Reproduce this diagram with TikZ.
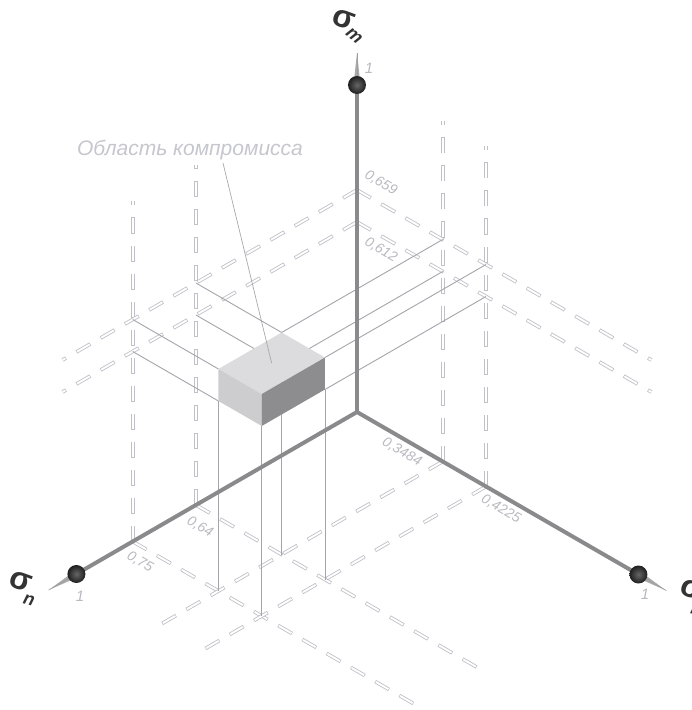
\documentclass[tikz,border=0pt]{standalone}
\usepackage{fontspec}
\setmainfont{Liberation Sans}
\usetikzlibrary{calc}

\definecolor{gridc}{HTML}{C0C0C8}
\definecolor{projc}{HTML}{A4A4AA}
\definecolor{leadc}{HTML}{A8A8AE}
\definecolor{axisc}{HTML}{8A8A8C}
\definecolor{labelc}{HTML}{B8B8C0}
\definecolor{titlec}{HTML}{C6C6CE}
\definecolor{topc}{HTML}{DCDCDE}
\definecolor{frontc}{HTML}{CDCDCF}
\definecolor{sidec}{HTML}{8D8D8F}
\definecolor{tipc}{HTML}{A9A9AB}
\definecolor{sigc}{HTML}{333333}

\tikzset{
  gridline/.style={draw=gridc, line width=3.6pt, dash pattern=on 16pt off 12pt,
    postaction={draw=white, line width=1.9pt, dash pattern=on 14.6pt off 13.4pt, dash phase=27.3pt}},
  projline/.style={draw=projc, line width=0.9pt},
  leader/.style={draw=leadc, line width=0.7pt},
  axisline/.style={draw=axisc, line width=4pt},
  ticklabel/.style={text=labelc, font=\itshape\fontsize{14}{14}\selectfont, rotate=-30, inner sep=0pt},
  unitlabel/.style={text=labelc, font=\itshape\fontsize{15}{15}\selectfont, inner sep=0pt},
  sigmalabel/.style={text=sigc, font=\bfseries\fontsize{32}{32}\selectfont, inner sep=0pt},
  sublabel/.style={text=sigc, font=\bfseries\itshape\fontsize{18}{18}\selectfont, inner sep=0pt},
  titlelabel/.style={text=titlec, font=\itshape\fontsize{21}{21}\selectfont, inner sep=0pt},
  tipcone/.style={fill=tipc},
}

\begin{document}
\begin{tikzpicture}[x={(-0.866pt,-0.5pt)}, y={(0.866pt,-0.5pt)}, z={(0pt,1pt)}]
\clip (-357pt,-298pt) rectangle (335pt,412pt);

% ---- dashed reference grid on the floor and the two back walls ----
\foreach \vn in {186,259}{
  \draw[gridline] (\vn,0,0) -- (\vn,336,0);
  \draw[gridline] (\vn,0,0) -- (\vn,0,340);
}
\foreach \vl in {99,149}{
  \draw[gridline] (0,\vl,0) -- (336,\vl,0);
  \draw[gridline] (0,\vl,0) -- (0,\vl,340);
}
\foreach \vm in {190,222}{
  \draw[gridline] (0,0,\vm) -- (340,0,\vm);
  \draw[gridline] (0,0,\vm) -- (0,340,\vm);
}

% ---- projection lines from the box corners ----
\foreach \vn in {186,259}{
  \foreach \vl in {99,149}{
    \draw[projline] (\vn,\vl,190) -- (\vn,\vl,0);
  }
}
\foreach \vl in {99,149}{
  \foreach \vm in {190,222}{
    \draw[projline] (186,\vl,\vm) -- (0,\vl,\vm);
  }
}
\foreach \vn in {186,259}{
  \foreach \vm in {190,222}{
    \draw[projline] (\vn,99,\vm) -- (\vn,0,\vm);
  }
}

% ---- compromise box ----
\coordinate (ltop) at (259,99,222);
\coordinate (ftop) at (259,149,222);
\coordinate (rtop) at (186,149,222);
\coordinate (btop) at (186,99,222);
\coordinate (lbot) at (259,99,190);
\coordinate (fbot) at (259,149,190);
\coordinate (rbot) at (186,149,190);
\fill[topc] (ltop) -- (ftop) -- (rtop) -- (btop) -- cycle;
\fill[frontc] (ltop) -- (ftop) -- (fbot) -- (lbot) -- cycle;
\fill[sidec] (ftop) -- (rtop) -- (rbot) -- (fbot) -- cycle;

% ---- title with leader ----
\node[titlelabel] (title) at (-167pt,262pt) {Область компромисса};
\coordinate (leadA) at (-134pt,249pt);
\coordinate (topmid) at (222.5,124,222);
\draw[leader] (leadA) -- (topmid);

% ---- axes ----
\coordinate (O) at (0,0,0);
\coordinate (Bn) at (324,0,0);
\coordinate (Bl) at (0,325,0);
\coordinate (Bm) at (0,0,327);
\coordinate (Tn) at (356,0,0);
\coordinate (Tl) at (0,357,0);
\coordinate (Tm) at (0,0,359);
\draw[axisline] (O) -- (Bn);
\draw[axisline] (O) -- (Bl);
\draw[axisline] (O) -- (Bm);

\fill[tipcone] ($(Bm)+(-3.5pt,0pt)$) -- (Tm) -- ($(Bm)+(3.5pt,0pt)$) -- cycle;
\fill[tipcone] ($(Bn)+(1.75pt,-3.03pt)$) -- (Tn) -- ($(Bn)+(-1.75pt,3.03pt)$) -- cycle;
\fill[tipcone] ($(Bl)+(1.75pt,3.03pt)$) -- (Tl) -- ($(Bl)+(-1.75pt,-3.03pt)$) -- cycle;
\draw[gray!75, line width=0.6pt] (Bm) -- (Tm);
\draw[gray!75, line width=0.6pt] (Bn) -- (Tn);
\draw[gray!75, line width=0.6pt] (Bl) -- (Tl);

\begin{scope}[x=1pt, y=1pt]
  \foreach \b in {Bn,Bl,Bm}{
    \shade[inner color=black!60, outer color=black!88] (\b) circle[radius=9];
  }
\end{scope}

% ---- axis labels ----
\node[sigmalabel, rotate=-20] (sm) at (-13pt,393pt) {σ};
\node[sublabel, rotate=-40] (smsub) at (-3pt,376pt) {m};
\node[sigmalabel, rotate=-20] (sn) at (-336pt,-169pt) {σ};
\node[sublabel, rotate=-15] (snsub) at (-328pt,-188pt) {n};
\node[sigmalabel, rotate=-20] (sl) at (335pt,-177pt) {σ};
\node[sublabel, rotate=-15] (slsub) at (337pt,-196pt) {l};

\node[unitlabel] (um) at (12pt,344pt) {1};
\node[unitlabel] (un) at (-277pt,-184pt) {1};
\node[unitlabel] (ul) at (288pt,-182pt) {1};

% ---- tick values ----
\node[ticklabel] (t659) at (24pt,229pt) {0,659};
\node[ticklabel] (t612) at (24pt,162pt) {0,612};
\node[ticklabel] (t3484) at (45pt,-40pt) {0,3484};
\node[ticklabel] (t4225) at (144pt,-97pt) {0,4225};
\node[ticklabel] (t64) at (-157pt,-115pt) {0,64};
\node[ticklabel] (t75) at (-217pt,-150pt) {0,75};
\end{tikzpicture}
\end{document}
